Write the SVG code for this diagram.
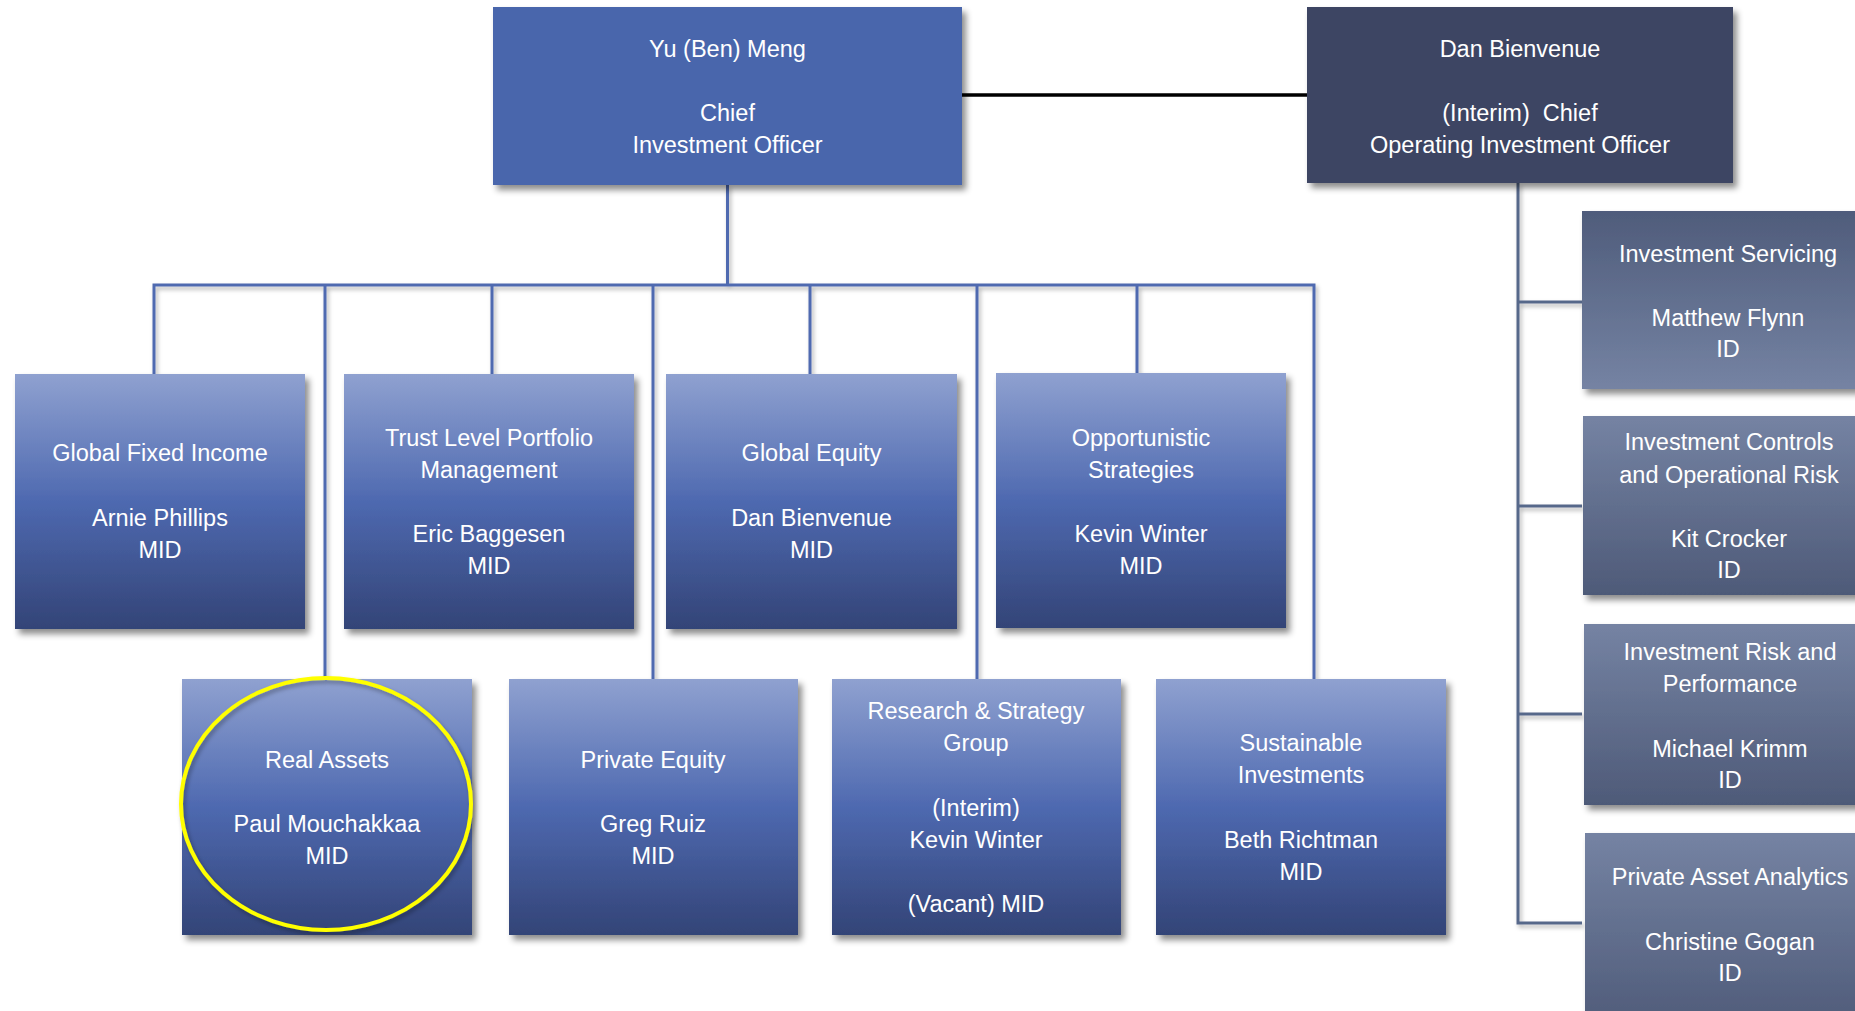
<svg xmlns="http://www.w3.org/2000/svg" width="1855" height="1011" viewBox="0 0 1855 1011">
<defs>
<linearGradient id="gBlue" x1="0" y1="0" x2="0" y2="1">
<stop offset="0" stop-color="#8FA1D0"/>
<stop offset="0.5" stop-color="#4E69B0"/>
<stop offset="1" stop-color="#334477"/>
</linearGradient>
<linearGradient id="gGreyUp" x1="0" y1="0" x2="0" y2="1">
<stop offset="0" stop-color="#4F5C7B"/>
<stop offset="1" stop-color="#7583A3"/>
</linearGradient>
<linearGradient id="gGreyDown" x1="0" y1="0" x2="0" y2="1">
<stop offset="0" stop-color="#7583A3"/>
<stop offset="1" stop-color="#4E5A78"/>
</linearGradient>
<filter id="sh" x="-10%" y="-10%" width="130%" height="130%">
<feDropShadow dx="4" dy="5" stdDeviation="3" flood-color="#000" flood-opacity="0.45"/>
</filter>
<filter id="lsh" x="-20%" y="-20%" width="140%" height="140%">
<feDropShadow dx="2" dy="3" stdDeviation="2" flood-color="#000" flood-opacity="0.3"/>
</filter>
</defs>
<style>
text{font-family:"Liberation Sans",Arial,sans-serif;font-size:23.5px;fill:#fff;text-anchor:middle}
.blue{fill:url(#gBlue)}
.up{fill:url(#gGreyUp)}
.down{fill:url(#gGreyDown)}
.cb{stroke:#4F6BB0;stroke-width:3;fill:none}
.cg{stroke:#56678A;stroke-width:3;fill:none}
</style>
<rect width="1855" height="1011" fill="#fff"/>
<g id="connectors">
<line x1="962" y1="95" x2="1307" y2="95" stroke="#000" stroke-width="3.5"/>
<g filter="url(#lsh)">
<path class="cb" d="M727.5 185V285M154 374V285H1314V679M325 285V679M492 285V374M653 285V679M810 285V374M977 285V679M1137 285V374"/>
<path class="cg" d="M1518 183V923H1582M1518 302H1582M1518 506H1582M1518 714H1582"/>
</g>
</g>
<g id="cio">
<rect x="493" y="7" width="469" height="178" fill="#4A66AC" filter="url(#sh)"/>
<text x="727.5" y="57">Yu (Ben) Meng</text>
<text x="727.5" y="121">Chief</text>
<text x="727.5" y="153">Investment Officer</text>
</g>
<g id="coo">
<rect x="1307" y="7" width="426" height="176" fill="#3C4563" filter="url(#sh)"/>
<text x="1520" y="57">Dan Bienvenue</text>
<text x="1520" y="121" xml:space="preserve">(Interim)  Chief</text>
<text x="1520" y="153">Operating Investment Officer</text>
</g>
<g id="gfi">
<rect class="blue" x="15" y="374" width="290" height="255" filter="url(#sh)"/>
<text x="160" y="461">Global Fixed Income</text>
<text x="160" y="526">Arnie Phillips</text>
<text x="160" y="558">MID</text>
</g>
<g id="tlpm">
<rect class="blue" x="344" y="374" width="290" height="255" filter="url(#sh)"/>
<text x="489" y="446">Trust Level Portfolio</text>
<text x="489" y="478">Management</text>
<text x="489" y="542">Eric Baggesen</text>
<text x="489" y="574">MID</text>
</g>
<g id="ge">
<rect class="blue" x="666" y="374" width="291" height="255" filter="url(#sh)"/>
<text x="811.5" y="461">Global Equity</text>
<text x="811.5" y="526">Dan Bienvenue</text>
<text x="811.5" y="558">MID</text>
</g>
<g id="os">
<rect class="blue" x="996" y="373" width="290" height="255" filter="url(#sh)"/>
<text x="1141" y="446">Opportunistic</text>
<text x="1141" y="478">Strategies</text>
<text x="1141" y="542">Kevin Winter</text>
<text x="1141" y="574">MID</text>
</g>
<g id="ra">
<rect class="blue" x="182" y="679" width="290" height="256" filter="url(#sh)"/>
<text x="327" y="768">Real Assets</text>
<text x="327" y="832">Paul Mouchakkaa</text>
<text x="327" y="864">MID</text>
</g>
<g id="pe">
<rect class="blue" x="509" y="679" width="289" height="256" filter="url(#sh)"/>
<text x="653" y="768">Private Equity</text>
<text x="653" y="832">Greg Ruiz</text>
<text x="653" y="864">MID</text>
</g>
<g id="rs">
<rect class="blue" x="832" y="679" width="289" height="256" filter="url(#sh)"/>
<text x="976" y="719">Research &amp; Strategy</text>
<text x="976" y="751">Group</text>
<text x="976" y="816">(Interim)</text>
<text x="976" y="848">Kevin Winter</text>
<text x="976" y="912">(Vacant) MID</text>
</g>
<g id="si">
<rect class="blue" x="1156" y="679" width="290" height="256" filter="url(#sh)"/>
<text x="1301" y="751">Sustainable</text>
<text x="1301" y="783">Investments</text>
<text x="1301" y="848">Beth Richtman</text>
<text x="1301" y="880">MID</text>
</g>
<g id="highlight">
<ellipse cx="326" cy="804" rx="145" ry="126" fill="none" stroke="#FFFF00" stroke-width="4" filter="url(#lsh)"/>
</g>
<g id="is">
<rect class="up" x="1582" y="211" width="292" height="178" filter="url(#sh)"/>
<text x="1728" y="262">Investment Servicing</text>
<text x="1728" y="326">Matthew Flynn</text>
<text x="1728" y="357">ID</text>
</g>
<g id="icor">
<rect class="down" x="1583" y="416" width="292" height="179" filter="url(#sh)"/>
<text x="1729" y="450">Investment Controls</text>
<text x="1729" y="483">and Operational Risk</text>
<text x="1729" y="547">Kit Crocker</text>
<text x="1729" y="578">ID</text>
</g>
<g id="irp">
<rect class="down" x="1584" y="624" width="292" height="181" filter="url(#sh)"/>
<text x="1730" y="660">Investment Risk and</text>
<text x="1730" y="692">Performance</text>
<text x="1730" y="757">Michael Krimm</text>
<text x="1730" y="788">ID</text>
</g>
<g id="paa">
<rect class="down" x="1585" y="833" width="292" height="200" filter="url(#sh)"/>
<text x="1730" y="885">Private Asset Analytics</text>
<text x="1730" y="950">Christine Gogan</text>
<text x="1730" y="981">ID</text>
</g>
</svg>
